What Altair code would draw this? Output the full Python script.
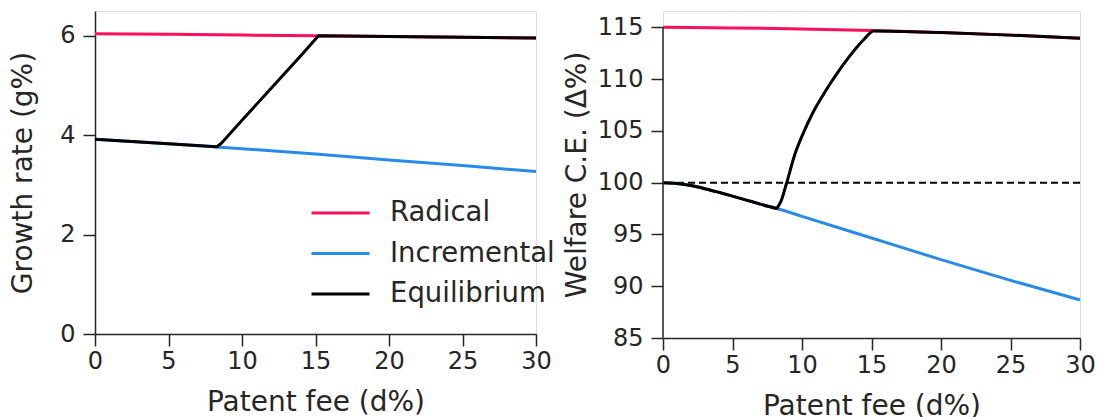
import altair as alt
import pandas as pd

FONT = "DejaVu Sans"
INK = "#262626"

series_names = ["Radical", "Incremental", "Equilibrium"]
series_colors = ["#ff0f5a", "#2a8be6", "#000000"]

# ---- left panel: growth rate (g%) vs patent fee (d%)
g_rad_d = [0, 5, 10, 15, 20, 25, 30]
g_rad_v = [6.04, 6.03, 6.015, 6.0, 5.985, 5.97, 5.955]
g_inc_d = [0, 5, 10, 15, 20, 25, 30]
g_inc_v = [3.92, 3.83, 3.73, 3.62, 3.50, 3.39, 3.27]
g_eq_d = [0, 5, 8.3, 8.6, 10, 12, 14, 15.2, 20, 25, 30]
g_eq_v = [3.92, 3.83, 3.77, 3.84, 4.30, 4.95, 5.60, 6.0, 5.985, 5.97, 5.955]

# ---- right panel: welfare C.E. (Δ%) vs patent fee (d%)
w_rad_d = [0, 5, 10, 15, 20, 25, 30]
w_rad_v = [115.0, 114.95, 114.85, 114.7, 114.5, 114.25, 113.95]
w_inc_d = [0, 1, 2, 3, 4, 5, 6, 7, 8.19, 10, 15, 20, 25, 30]
w_inc_v = [100.0, 99.93, 99.72, 99.42, 99.07, 98.7, 98.32, 97.93, 97.5,
           96.75, 94.66, 92.57, 90.57, 88.67]
w_eq_d = [0, 1, 2, 3, 4, 5, 6, 7, 8.1, 8.19, 8.25, 8.5, 8.9, 9.5, 10.0, 10.8,
          11.4, 12.0, 12.6, 13.25, 13.9, 14.5, 15.15, 20, 25, 30]
w_eq_v = [100.0, 99.93, 99.72, 99.42, 99.07, 98.7, 98.32, 97.93, 97.53, 97.5,
          97.64, 98.25, 100.0, 102.8, 104.5, 106.8, 108.2, 109.5, 110.7, 111.9,
          113.0, 113.9, 114.65, 114.5, 114.25, 113.95]

ref_level = [100]
fee_ticks = [0, 5, 10, 15, 20, 25, 30]
growth_ticks = [0, 2, 4, 6]
welfare_ticks = [85, 90, 95, 100, 105, 110, 115]


def frame(parts):
    rows = []
    for name, xs, ys in parts:
        rows += [{"series": name, "d": x, "v": y} for x, y in zip(xs, ys)]
    return pd.DataFrame(rows)


left_df = frame([("Radical", g_rad_d, g_rad_v),
                 ("Incremental", g_inc_d, g_inc_v),
                 ("Equilibrium", g_eq_d, g_eq_v)])
right_df = frame([("Radical", w_rad_d, w_rad_v),
                  ("Incremental", w_inc_d, w_inc_v),
                  ("Equilibrium", w_eq_d, w_eq_v)])

common_axis = dict(grid=False, tickSize=12, tickWidth=1.5, domainWidth=1.5,
                   domainColor=INK, tickColor=INK, labelColor=INK, titleColor=INK,
                   labelFont=FONT, titleFont=FONT, labelFontSize=24, titleFontSize=28,
                   titleFontWeight="normal")

x_axis = alt.Axis(values=fee_ticks, labelPadding=3, titlePadding=15,
                  labelFlush=False, **common_axis)
x_scale = alt.Scale(domain=[0, 30], nice=False)

color_left = alt.Color(
    "series:N",
    scale=alt.Scale(domain=series_names, range=series_colors),
    legend=alt.Legend(title=None, orient="none", legendX=215, legendY=183,
                      symbolType="stroke", symbolSize=3364, symbolStrokeWidth=3,
                      labelFont=FONT, labelFontSize=27.5, labelColor=INK,
                      labelOffset=19, clipHeight=38, rowPadding=2.5, labelLimit=0),
)
color_right = alt.Color(
    "series:N",
    scale=alt.Scale(domain=series_names, range=series_colors),
    legend=None,
)

left = alt.Chart(left_df).mark_line(strokeWidth=3).encode(
    x=alt.X("d:Q", title="Patent fee (d%)", scale=x_scale, axis=x_axis),
    y=alt.Y("v:Q", title="Growth rate (g%)",
            scale=alt.Scale(domain=[0, 6.5], nice=False),
            axis=alt.Axis(values=growth_ticks, labelPadding=8, titlePadding=22,
                          **common_axis)),
    color=color_left,
).properties(width=441, height=323)

y_scale_r = alt.Scale(domain=[85, 116.58], nice=False, zero=False)
y_right = alt.Y("v:Q", title="Welfare C.E. (Δ%)", scale=y_scale_r,
                axis=alt.Axis(values=welfare_ticks, labelPadding=8, titlePadding=6,
                              domain=False, **common_axis))

right_lines = alt.Chart(right_df).mark_line(strokeWidth=3, interpolate="monotone").encode(
    x=alt.X("d:Q", title="Patent fee (d%)", scale=x_scale, axis=x_axis),
    y=y_right,
    color=color_right,
)

ref_rule = alt.Chart(pd.DataFrame({"v": ref_level})).mark_rule(
    color="#000000", strokeWidth=2, strokeDash=[7, 4]
).encode(y=y_right)

spine = alt.Chart(pd.DataFrame({"d": [0], "v": [welfare_ticks[0]], "v2": [welfare_ticks[-1]]})).mark_rule(
    color=INK, strokeWidth=1.5
).encode(x=alt.X("d:Q", scale=x_scale, axis=x_axis), y=y_right, y2="v2:Q")

right = alt.layer(ref_rule, right_lines, spine).properties(width=417, height=327)

chart = alt.hconcat(left, right, spacing=127, bounds="flush").resolve_scale(
    color="independent"
).properties(
    padding={"left": 1, "top": 2, "right": 0, "bottom": 0}
).configure_view(stroke=None).configure(font=FONT)

chart.save("out.html", embed_options={"renderer": "svg", "actions": False})
